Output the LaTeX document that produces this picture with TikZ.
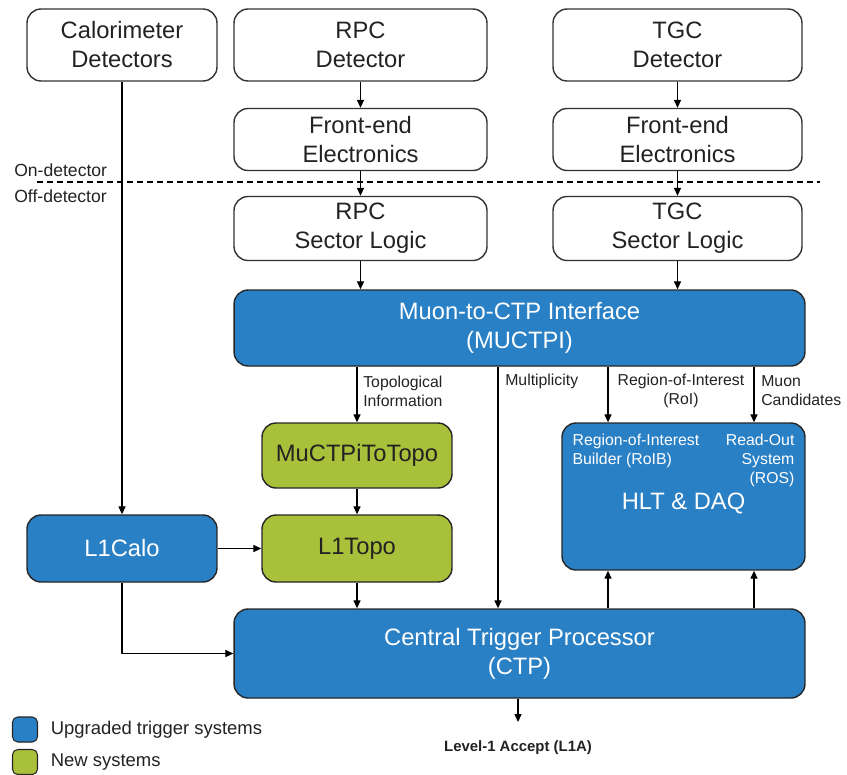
\documentclass[tikz,border=0pt]{standalone}
\usepackage{fontspec}
\setmainfont{Liberation Sans}
\usetikzlibrary{arrows.meta}
\definecolor{upblue}{HTML}{2A80C5}
\definecolor{newgreen}{HTML}{A8C03A}
\definecolor{txtgray}{HTML}{222222}
\tikzset{
	box/.style={draw=black!80,line width=0.8pt,rounded corners=0.28cm,align=center,inner sep=0pt,
		font=\fontsize{13.5}{16.5}\selectfont,text=txtgray},
	upbox/.style={box,fill=upblue,text=white,draw=black!85},
	newbox/.style={box,fill=newgreen,draw=black!85},
	lbl/.style={font=\fontsize{9}{10.8}\selectfont,text=txtgray,inner sep=1pt,align=left},
	inlbl/.style={lbl,text=white}
}
\begin{document}
\begin{tikzpicture}[x=0.02cm,y=-0.02cm,line join=round,line width=0.6pt,>={Triangle[length=4.5pt,width=4pt]}]
	\useasboundingbox (0,0) rectangle (847,774);
	% on-detector part
	\node[box,minimum width=3.8cm,minimum height=1.44cm] (calo) at (122,45) {Calorimeter\\Detectors};
	\node[box,minimum width=5.06cm,minimum height=1.44cm] (rpcdet) at (360.5,45) {RPC\\Detector};
	\node[box,minimum width=4.98cm,minimum height=1.44cm] (tgcdet) at (677.5,45) {TGC\\Detector};
	\node[box,minimum width=5.06cm,minimum height=1.24cm] (rpcfe) at (360.5,139.5) {Front-end\\Electronics};
	\node[box,minimum width=4.98cm,minimum height=1.24cm] (tgcfe) at (677.5,139.5) {Front-end\\Electronics};
	% detector border
	\draw[dash pattern=on 0.12cm off 0.08cm,line width=1.1pt] (37,182) -- (820,182);
	\node[lbl,anchor=west,font=\fontsize{10}{12}\selectfont] (ondet) at (12,170) {On-detector};
	\node[lbl,anchor=west,font=\fontsize{10}{12}\selectfont] (offdet) at (12,196) {Off-detector};
	% off-detector part
	\node[box,minimum width=5.06cm,minimum height=1.28cm] (rpcsl) at (360.5,228.5) {RPC\\Sector Logic};
	\node[box,minimum width=4.98cm,minimum height=1.28cm] (tgcsl) at (677.5,228.5) {TGC\\Sector Logic};
	\node[upbox,minimum width=11.42cm,minimum height=1.52cm] (muctpi) at (519.5,328) {Muon-to-CTP Interface\\(MUCTPI)};
	\node[newbox,minimum width=3.8cm,minimum height=1.3cm] (totopo) at (357,455.5) {MuCTPiToTopo};
	\node[newbox,minimum width=3.8cm,minimum height=1.34cm] (l1topo) at (357,548.5) {L1Topo};
	\node[upbox,minimum width=3.8cm,minimum height=1.34cm] (l1calo) at (122,548.5) {L1Calo};
	\node[upbox,minimum width=4.86cm,minimum height=2.94cm] (hlt) at (683.5,496.5) {};
	\node[inlbl,font=\fontsize{13.5}{16.5}\selectfont] (hltname) at ([yshift=-4pt]hlt.center) {HLT \& DAQ};
	\node[inlbl,anchor=north west] (roib) at ([shift={(9,9)}]hlt.north west) {Region-of-Interest\\Builder (RoIB)};
	\node[inlbl,anchor=north east,align=right] (ros) at ([shift={(-9,9)}]hlt.north east) {Read-Out\\System\\(ROS)};
	\node[upbox,minimum width=11.42cm,minimum height=1.78cm] (ctp) at (519.5,653.5) {Central Trigger Processor\\(CTP)};
	\node[lbl,font=\bfseries\fontsize{8.5}{10}\selectfont] (l1a) at (518,748) {Level-1 Accept (L1A)};
	% columns of the links
	\path (498,0) coordinate (mult)
		(608,0) coordinate (roi)
		(754,0) coordinate (cand)
		(518,722) coordinate (l1aend);
	% vertical arrows
	\foreach \a/\b in {rpcdet/rpcfe,rpcfe/rpcsl,tgcdet/tgcfe,tgcfe/tgcsl,rpcsl/muctpi,tgcsl/muctpi,totopo/l1topo,l1topo/ctp,calo/l1calo}
		\draw[->] (\a.south) -- (\a.south |- \b.north);
	\draw[->] (totopo.north |- muctpi.south) -- (totopo.north);
	\draw[->] (muctpi.south -| mult) -- (ctp.north -| mult);
	\foreach \c in {roi,cand}{
		\draw[->] (muctpi.south -| \c) -- (hlt.north -| \c);
		\draw[->] (ctp.north -| \c) -- (hlt.south -| \c);
	}
	\draw[->] (l1calo) -- (l1topo);
	\draw[->] (l1calo.south) |- (ctp.west);
	\draw[->] (ctp.south -| l1aend) -- (l1aend);
	% link labels
	\node[lbl,anchor=west] (topoinfo) at (361,391) {Topological\\Information};
	\node[lbl,anchor=west] (multlbl) at (503,381) {Multiplicity};
	\node[lbl,align=center] (roilbl) at (681,391) {Region-of-Interest\\(RoI)};
	\node[lbl,anchor=west] (candlbl) at (759,391) {Muon\\Candidates};
	% legend
	\node[draw=black!85,fill=upblue,rounded corners=3pt,minimum size=0.5cm,inner sep=0pt] (legup) at (25,729.5) {};
	\node[draw=black!85,fill=newgreen,rounded corners=3pt,minimum size=0.5cm,inner sep=0pt] (legnew) at (25,762) {};
	\node[lbl,anchor=west,font=\fontsize{10.5}{12}\selectfont] (legupt) at ([xshift=6]legup.east) {Upgraded trigger systems};
	\node[lbl,anchor=west,font=\fontsize{10.5}{12}\selectfont] (legnewt) at ([xshift=6]legnew.east) {New systems};
\end{tikzpicture}
\end{document}
